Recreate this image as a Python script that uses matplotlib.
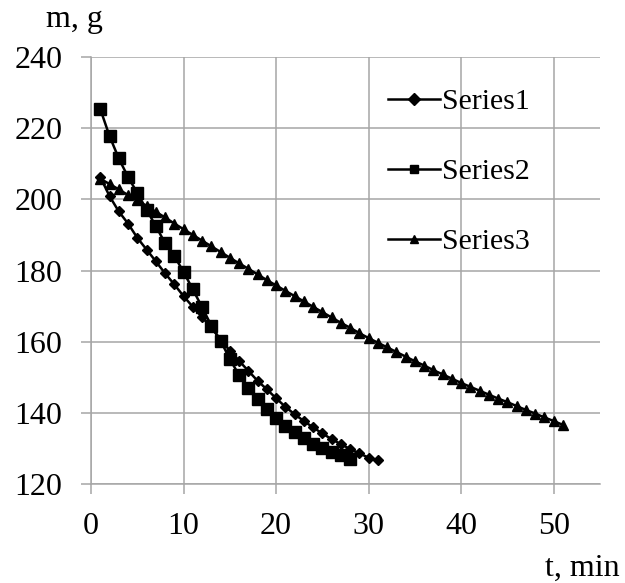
import matplotlib
matplotlib.use("Agg")
import matplotlib.pyplot as plt
import numpy as np

plt.rcParams['font.family'] = ['Liberation Serif', 'DejaVu Serif']

# Data (time in minutes, mass in grams)
t1 = list(range(1, 32))
series1 = [206.3, 200.9, 196.6, 193.2, 189.2, 185.9, 182.6, 179.2, 176.1, 172.8,
           169.8, 166.9, 164.0, 160.5, 157.5, 154.6, 151.8, 149.0, 146.6, 144.1,
           141.7, 139.6, 137.7, 135.9, 134.2, 132.6, 131.2, 129.8, 128.6, 127.4,
           126.7]

t2 = list(range(1, 29))
series2 = [225.4, 217.8, 211.5, 206.3, 201.8, 197.1, 192.5, 187.7, 184.1, 179.6,
           174.7, 169.7, 164.5, 160.3, 155.1, 150.6, 146.9, 143.9, 141.1, 138.6,
           136.2, 134.5, 132.8, 131.3, 130.0, 129.0, 128.1, 127.1]

t3 = list(range(1, 52))
series3 = [205.8, 204.3, 202.8, 201.2, 199.7, 198.1, 196.5, 194.9, 193.2, 191.6,
           190.0, 188.4, 186.8, 185.2, 183.6, 182.0, 180.5, 178.9, 177.3, 175.8,
           174.3, 172.8, 171.3, 169.8, 168.3, 166.8, 165.3, 163.9, 162.4, 161.0,
           159.7, 158.4, 157.1, 155.8, 154.5, 153.3, 152.0, 150.8, 149.6, 148.4,
           147.3, 146.2, 145.1, 144.0, 143.0, 141.9, 140.8, 139.8, 138.7, 137.7,
           136.6]

labels = ["Series1", "Series2", "Series3"]
x_ticks = [0, 10, 20, 30, 40, 50]
y_ticks = [120, 140, 160, 180, 200, 220, 240]

fig = plt.figure(figsize=(6.25, 5.83), dpi=100)
ax = fig.add_axes([91/625, 1-484/583, (600-91)/625, (484-57)/583])

grid_c = '#a6a6a6'
ax.plot(t1, series1, color='black', lw=1.8, marker='D', ms=5.5, label=labels[0], zorder=3)
ax.plot(t2, series2, color='black', lw=1.8, marker='s', ms=8, label=labels[1], zorder=3)
ax.plot(t3, series3, color='black', lw=1.8, marker='^', ms=7.5, label=labels[2], zorder=3)

ax.set_xlim(0, 55)
ax.set_ylim(120, 240)
ax.set_xticks(x_ticks)
ax.set_yticks(y_ticks)
ax.grid(True, color=grid_c, lw=1.1)
ax.set_axisbelow(True)
for s in ['top', 'right']:
    ax.spines[s].set_visible(False)
for s in ['left', 'bottom']:
    ax.spines[s].set_color(grid_c)
    ax.spines[s].set_linewidth(1.1)
ax.tick_params(axis='both', colors=grid_c, length=7.5, width=1.1, labelsize=23,
               labelcolor='black', pad=13)

leg = ax.legend(loc='upper left', bbox_to_anchor=(0.56, 0.955), frameon=False,
                fontsize=21.5, handlelength=1.75, handletextpad=0.05,
                labelspacing=1.45, borderaxespad=0)
for h in leg.legend_handles:
    h.set_markersize(6)

fig.text(46/625, 1-20/583, "m, g", fontsize=23, ha='left', va='center')
fig.text(620/625, 1-568/583, "t, min", fontsize=23, ha='right', va='center')

fig.savefig("out.png", dpi=100)
